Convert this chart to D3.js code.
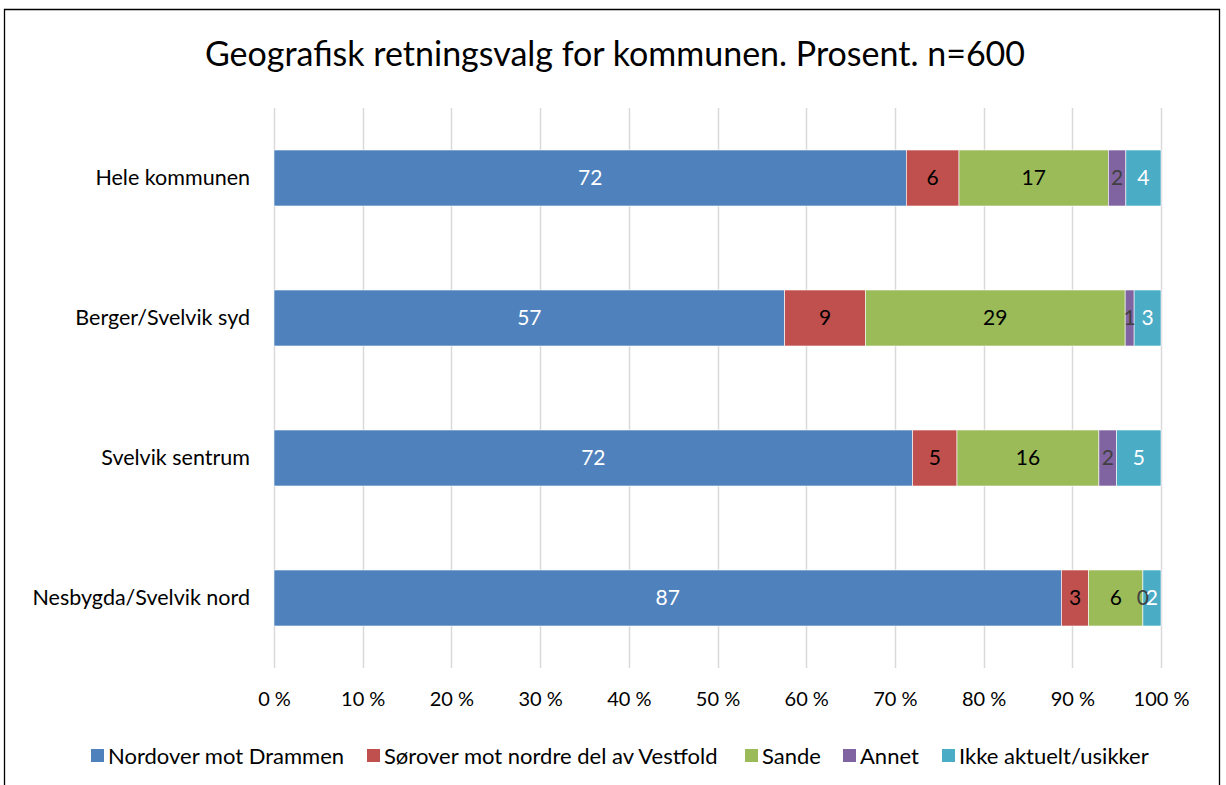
<!DOCTYPE html>
<html>
<head>
<meta charset="utf-8">
<script src="https://cdn.jsdelivr.net/npm/d3@7"></script>
<style>
  body { margin: 0; background: #fff; font-family: Lato, "Open Sans", sans-serif; }
</style>
</head>
<body>
<div id="chart"></div>
<script>
// Data
const categories = ["Hele kommunen", "Berger/Svelvik syd", "Svelvik sentrum", "Nesbygda/Svelvik nord"];
const seriesNames = ["Nordover mot Drammen", "Sørover mot nordre del av Vestfold", "Sande", "Annet", "Ikke aktuelt/usikker"];
const nordover = [72, 57, 72, 87];
const sorover = [6, 9, 5, 3];
const sande = [17, 29, 16, 6];
const annet = [2, 1, 2, 0];
const ikkeAktuelt = [4, 3, 5, 2];
const tickValues = [0, 0.1, 0.2, 0.3, 0.4, 0.5, 0.6, 0.7, 0.8, 0.9, 1];

const colors = ["#4F81BD", "#C0504D", "#9BBB59", "#8064A2", "#4BACC6"];
const labelColors = ["#ffffff", "#000000", "#000000", "#404040", "#ffffff"];

const width = 1226, height = 785;
const margin = { top: 108, right: 65, bottom: 117, left: 274 };
const plotW = width - margin.left - margin.right;
const plotH = height - margin.top - margin.bottom;

const svg = d3.select("#chart")
  .append("svg")
  .attr("width", width)
  .attr("height", height);

// outer frame (no bottom edge visible)
svg.append("path")
  .attr("d", `M4.5,${height} V9.5 H1219.5 V${height}`)
  .attr("fill", "none")
  .attr("stroke", "#000")
  .attr("stroke-width", 1.3);

// Title
svg.append("text")
  .attr("x", 615)
  .attr("y", 66)
  .attr("text-anchor", "middle")
  .attr("font-size", "34px")
  .attr("fill", "#000")
  .text("Geografisk retningsvalg for kommunen. Prosent. n=600");

const g = svg.append("g")
  .attr("transform", `translate(${margin.left},${margin.top})`);

const seriesArrays = [nordover, sorover, sande, annet, ikkeAktuelt];
const rows = categories.map((c, i) => {
  const row = { category: c };
  seriesNames.forEach((s, j) => { row[s] = seriesArrays[j][i]; });
  return row;
});

const stacked = d3.stack()
  .keys(seriesNames)
  .offset(d3.stackOffsetExpand)(rows);

const x = d3.scaleLinear().domain([0, 1]).range([0, plotW]);
const y = d3.scaleBand().domain(categories).range([0, plotH]).paddingInner(0.6).paddingOuter(0.3);

// gridlines
g.append("g")
  .selectAll("line")
  .data(tickValues)
  .enter().append("line")
  .attr("x1", d => Math.round(x(d)) + 0.5)
  .attr("x2", d => Math.round(x(d)) + 0.5)
  .attr("y1", 0)
  .attr("y2", plotH)
  .attr("stroke", "#D9D9D9")
  .attr("stroke-width", 1.5);

// x axis labels
const xAxis = g.append("g")
  .attr("transform", `translate(0,${plotH})`)
  .call(d3.axisBottom(x).tickValues(tickValues).tickSize(0).tickPadding(24)
    .tickFormat(d => Math.round(d * 100) + " %"));
xAxis.select(".domain").remove();
xAxis.selectAll("text")
  .attr("font-family", "Lato, sans-serif")
  .attr("font-size", "20px")
  .attr("fill", "#000");

// y axis labels
const yAxis = g.append("g")
  .call(d3.axisLeft(y).tickSize(0).tickPadding(24));
yAxis.select(".domain").remove();
yAxis.selectAll("text")
  .attr("font-family", "Lato, sans-serif")
  .attr("font-size", "21.5px")
  .attr("fill", "#000");

// bars
const layers = g.selectAll(".layer")
  .data(stacked)
  .enter().append("g")
  .attr("class", "layer")
  .attr("fill", (d, i) => colors[i]);

layers.selectAll("rect")
  .data(d => d)
  .enter().append("rect")
  .attr("x", d => x(d[0]))
  .attr("y", d => y(d.data.category))
  .attr("width", d => x(d[1]) - x(d[0]))
  .attr("height", y.bandwidth())
  .attr("stroke", "#ffffff")
  .attr("stroke-width", 0.6);

// value labels
stacked.forEach((layer, i) => {
  g.append("g")
    .selectAll("text")
    .data(layer)
    .enter().append("text")
    .attr("x", d => x((d[0] + d[1]) / 2))
    .attr("y", d => y(d.data.category) + y.bandwidth() / 2)
    .attr("dy", "0.35em")
    .attr("text-anchor", "middle")
    .attr("font-size", "21px")
    .attr("fill", labelColors[i])
    .text(d => d.data[layer.key]);
});

// legend
const legendX = [91, 367, 745, 843, 942];
const legend = svg.append("g")
  .attr("transform", "translate(0,755)");
seriesNames.forEach((s, i) => {
  legend.append("rect")
    .attr("x", legendX[i])
    .attr("y", -6)
    .attr("width", 13)
    .attr("height", 13)
    .attr("fill", colors[i]);
  legend.append("text")
    .attr("x", legendX[i] + 17)
    .attr("y", 1)
    .attr("dy", "0.35em")
    .attr("font-size", "22px")
    .attr("fill", "#000")
    .text(s);
});
</script>
</body>
</html>
